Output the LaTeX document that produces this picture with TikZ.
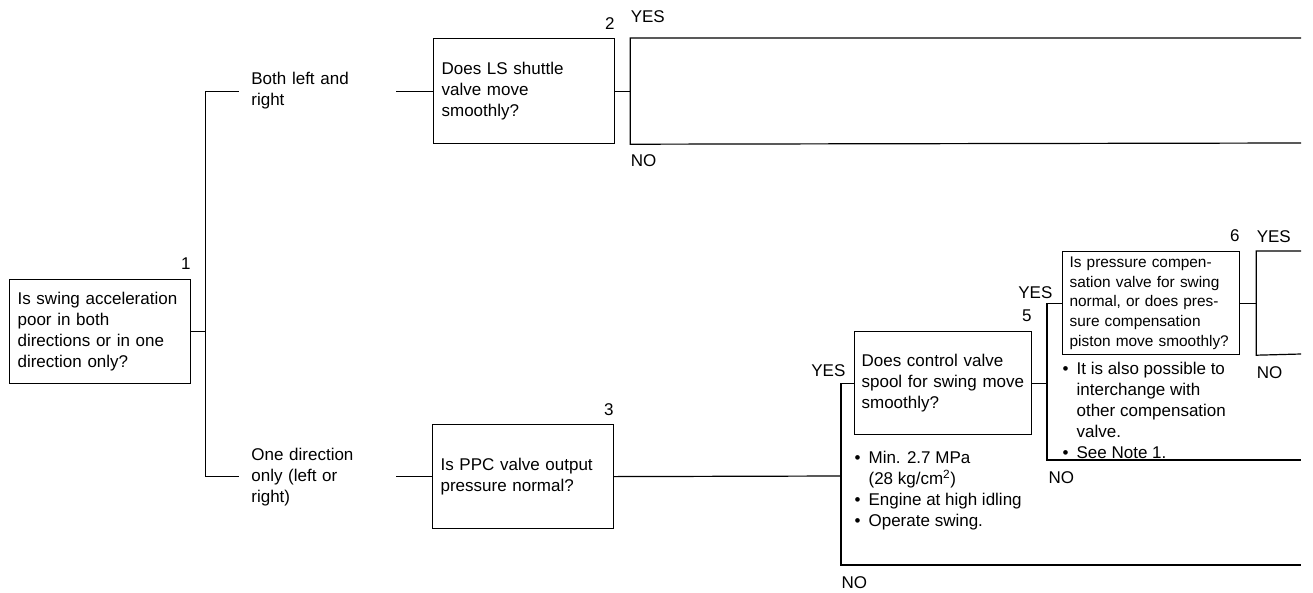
\documentclass[tikz,border=0pt]{standalone}
\usepackage{fontspec}
\setmainfont{Liberation Sans}
\usetikzlibrary{positioning}

\newcommand{\blt}{\makebox[14pt][l]{•}}

\begin{document}
\begin{tikzpicture}[
    x=1pt, y=-1pt,
    line width=1.2pt,
    every node/.style={font=\fontsize{17}{21}\selectfont},
    question/.style={draw, anchor=north west, align=left, inner xsep=8pt, text width=165pt, minimum height=104pt},
    branch/.style={align=left, text width=132pt, inner xsep=12pt},
    num/.style={anchor=base east, inner sep=0pt},
    ans/.style={inner sep=0pt},
    note/.style={anchor=north west, align=left, inner sep=0pt}
]
    \useasboundingbox (0,0) rectangle (1313,592);

    % Question boxes
    \node[question] (q1) at (9,279) {Is swing acceleration\\poor in both\\directions or in one\\direction only?};
    \node[question, minimum height=105pt] (q2) at (433,38) {Does LS shuttle\\valve move\\smoothly?};
    \node[question] (q3) at (432,424) {Is PPC valve output\\pressure normal?};
    \node[question, inner xsep=7pt, text width=163pt, minimum height=103pt] (q5) at (854,331) {Does control valve\\spool for swing move\\smoothly?};
    \node[question, inner xsep=7pt, text width=163pt, minimum height=103pt, font=\fontsize{15.4}{19.7}\selectfont] (q6) at (1062,251) {Is pressure compen-\\sation valve for swing\\normal, or does pres-\\sure compensation\\piston move smoothly?};

    % Box numbers
    \node[num] (n1) at ([yshift=10pt]q1.north east) {1};
    \node[num] (n2) at ([yshift=9pt]q2.north east) {2};
    \node[num] (n3) at ([yshift=9pt]q3.north east) {3};
    \node[num] (n5) at ([yshift=10pt]q5.north east) {5};
    \node[num] (n6) at ([yshift=10pt]q6.north east) {6};

    % Branch labels
    \node[branch, left=37pt of q2] (lbBoth) {Both left and\\right};
    \node[branch, left=36pt of q3] (lbOne) {One direction\\only (left or\\right)};

    % Notes
    \node[note] (note5) at (854,451) {\blt Min. 2.7 MPa\\\hspace*{14pt}(28 kg/cm\textsuperscript{2})\\\blt Engine at high idling\\\blt Operate swing.};
    \node[note] (note6) at (1062,362) {\blt It is also possible to\\\hspace*{14pt}interchange with\\\hspace*{14pt}other compensation\\\hspace*{14pt}valve.\\\blt See Note 1.};

    % Junctions and free ends
    \coordinate (j1) at ([xshift=14pt]q1.east);
    \coordinate (j2) at ([xshift=15pt]q2.east);
    \coordinate (y2) at (j2 |- q2.north);
    \coordinate (no2) at (j2 |- q2.south);
    \coordinate (e2a) at (1301,38);
    \coordinate (e2b) at (1301,143);
    \coordinate (j3) at (841,476);
    \coordinate (no3) at (841,565);
    \coordinate (e3) at (1301,565);
    \coordinate (j5) at ([xshift=16pt]q5.east);
    \coordinate (no5) at (1047,460);
    \coordinate (e5) at (1301,460);
    \coordinate (j6) at ([xshift=16pt]q6.east);
    \coordinate (y6) at (j6 |- q6.north);
    \coordinate (no6) at (j6 |- q6.south);
    \coordinate (e6a) at (1301,251);
    \coordinate (e6b) at (1301,354);

    % Connectors from box 1
    \draw (q1.east) -- (j1);
    \draw (lbBoth.west) -| (j1) |- (lbOne.west);
    \draw (lbBoth.east) -- (q2.west);
    \draw (lbOne.east) -- (q3.west);

    % Box 2 result
    \draw (q2.east) -- (j2);
    \draw (e2a) -- (y2) -- (no2) -- (e2b);
    \node[ans, anchor=base west] (yes2lbl) at ([yshift=16pt]y2) {YES};
    \node[ans, anchor=base west] (no2lbl) at ([yshift=-22pt]no2) {NO};

    % Box 3 to box 5
    \draw (q3.east) -- (j3);
    \draw (q5.west) -| (no3) -- (e3);
    \node[ans, anchor=base east] (yes3lbl) at (846,376) {YES};
    \node[ans, anchor=base west] (no3lbl) at (841,588) {NO};

    % Box 5 to box 6
    \draw (q5.east) -- (j5);
    \draw (q6.west) -| (no5) -- (e5);
    \node[ans, anchor=base east] (yes5lbl) at (1053,298) {YES};
    \node[ans, anchor=base west] (no5lbl) at (1048,483) {NO};

    % Box 6 result
    \draw (q6.east) -- (j6);
    \draw (e6a) -- (y6) -- (no6) -- (e6b);
    \node[ans, anchor=base west] (yes6lbl) at ([yshift=9pt]y6) {YES};
    \node[ans, anchor=base west] (no6lbl) at ([yshift=-23pt]no6) {NO};

\end{tikzpicture}
\end{document}
